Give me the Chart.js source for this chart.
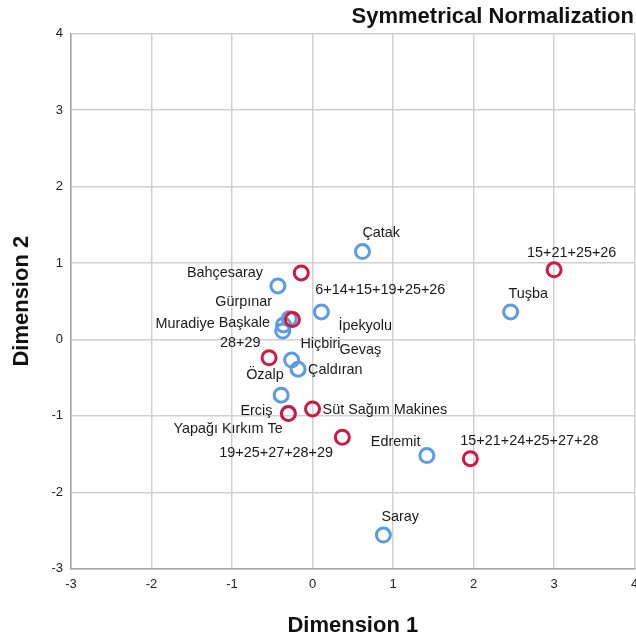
<!DOCTYPE html>
<html><head><meta charset="utf-8">
<script src="https://cdn.jsdelivr.net/npm/chart.js@4.4.1/dist/chart.umd.min.js"></script>
<style>html,body{margin:0;padding:0;background:#fff;}canvas{display:block;}</style>
</head><body>
<canvas id="c" width="636" height="637"></canvas>
<script>
// ---- data ----
const chartTitle = 'Symmetrical Normalization';
const xAxisTitle = 'Dimension 1';
const yAxisTitle = 'Dimension 2';
const xTickValues = [-3, -2, -1, 0, 1, 2, 3, 4];
const yTickValues = [-3, -2, -1, 0, 1, 2, 3, 4];

const districtNames = ['Çatak','Tuşba','Edremit','Saray','İpekyolu','Bahçesaray','Gürpınar','Muradiye','Başkale','Gevaş','Çaldıran','Özalp','Erciş'];
const districtX = [0.62, 2.46, 1.42, 0.88, 0.11, -0.43, -0.29, -0.36, -0.37, -0.26, -0.18, -0.39, -0.30];
const districtY = [1.15, 0.36, -1.52, -2.56, 0.36, 0.70, 0.27, 0.19, 0.11, -0.27, -0.39, -0.73, -0.97];

const machineNames = ['15+21+25+26','15+21+24+25+27+28','19+25+27+28+29','Süt Sağım Makines','Yapağı Kırkım Te','28+29','Hiçbiri','6+14+15+19+25+26'];
const machineX = [3.00, 1.96, 0.37, 0.00, -0.30, -0.54, -0.25, -0.14];
const machineY = [0.91, -1.56, -1.28, -0.91, -0.97, -0.24, 0.26, 0.87];

// ---- label placement (pixel offsets of label left edge / middle from point) ----
const districtLabelOffsets = [[0,-18],[-2,-18],[-56,-14],[-2,-18],[17,14],[-91,-13],[-74,-17],[-128,-1],[-64,-8],[48,-10],[10,1],[-35,-20],[-48,-3]];
const machineLabelOffsets = [[-27,-17],[-10,-18],[-123,16],[10,1],[-115,15],[-49,-15],[8,24],[14,17]];

const BLUE = '#5b9be6';
const RED = '#d4173f';
const FONT = "'Liberation Sans', Arial, sans-serif";
const AREA = {left: 71, right: 634.6, top: 33.7, bottom: 568.7, W: 636, H: 637};

const pointLabels = {
  id: 'pointLabels',
  afterDatasetsDraw(chart) {
    const ctx = chart.ctx;
    ctx.save();
    ctx.font = '14.4px ' + FONT;
    ctx.fillStyle = '#1a1a1a';
    ctx.textAlign = 'left';
    ctx.textBaseline = 'middle';
    const sets = [[machineNames, machineLabelOffsets], [districtNames, districtLabelOffsets]];
    chart.data.datasets.forEach((ds, di) => {
      const meta = chart.getDatasetMeta(di);
      const [names, offs] = sets[di];
      meta.data.forEach((el, i) => {
        ctx.fillText(names[i], el.x + offs[i][0], el.y + offs[i][1]);
      });
    });
    ctx.restore();
  }
};

const topTitle = {
  id: 'topTitle',
  afterDraw(chart) {
    const ctx = chart.ctx;
    ctx.save();
    ctx.font = 'bold 22px ' + FONT;
    ctx.fillStyle = '#111';
    ctx.textAlign = 'right';
    ctx.textBaseline = 'middle';
    ctx.fillText(chartTitle, 634, 17);
    ctx.restore();
  }
};

const commonGrid = {color: '#d0d0d0', lineWidth: 1.5, drawTicks: false};

new Chart(document.getElementById('c'), {
  type: 'scatter',
  data: {
    datasets: [
      {
        label: 'Machines',
        data: machineX.map((x, i) => ({x: x, y: machineY[i]})),
        borderColor: RED, backgroundColor: 'rgba(0,0,0,0)',
        pointRadius: 7, pointBorderWidth: 3, pointHoverRadius: 7
      },
      {
        label: 'Districts',
        data: districtX.map((x, i) => ({x: x, y: districtY[i]})),
        borderColor: BLUE, backgroundColor: 'rgba(0,0,0,0)',
        pointRadius: 7, pointBorderWidth: 3, pointHoverRadius: 7
      }
    ]
  },
  options: {
    responsive: false,
    animation: false,
    devicePixelRatio: 1,
    events: [],
    layout: {autoPadding: false, padding: {top: AREA.top, right: AREA.W - AREA.right, left: 0, bottom: 0}},
    plugins: {legend: {display: false}, tooltip: {enabled: false}, title: {display: false}},
    scales: {
      x: {
        type: 'linear', min: -3, max: 4,
        afterBuildTicks: s => { s.ticks = xTickValues.map(v => ({value: v})); },
        grid: commonGrid,
        border: {color: '#a6a6a6', width: 1.5},
        ticks: {padding: 8, color: '#222', font: {family: FONT, size: 13}},
        title: {display: true, text: xAxisTitle, color: '#111', font: {family: FONT, size: 22, weight: 'bold'}, padding: {top: 0, bottom: -2}},
        afterFit: s => { s.height = AREA.H - AREA.bottom; s.paddingLeft = 0; s.paddingRight = 0; }
      },
      y: {
        type: 'linear', min: -3, max: 4,
        afterBuildTicks: s => { s.ticks = yTickValues.map(v => ({value: v})); },
        grid: commonGrid,
        border: {color: '#a6a6a6', width: 1.5},
        ticks: {padding: 8, color: '#222', font: {family: FONT, size: 13}},
        title: {display: true, text: yAxisTitle, color: '#111', font: {family: FONT, size: 22, weight: 'bold'}, padding: {top: 9, bottom: 0}},
        afterFit: s => { s.width = AREA.left; s.paddingTop = 0; s.paddingBottom = 0; }
      }
    }
  },
  plugins: [pointLabels, topTitle]
});
</script>
</body></html>
